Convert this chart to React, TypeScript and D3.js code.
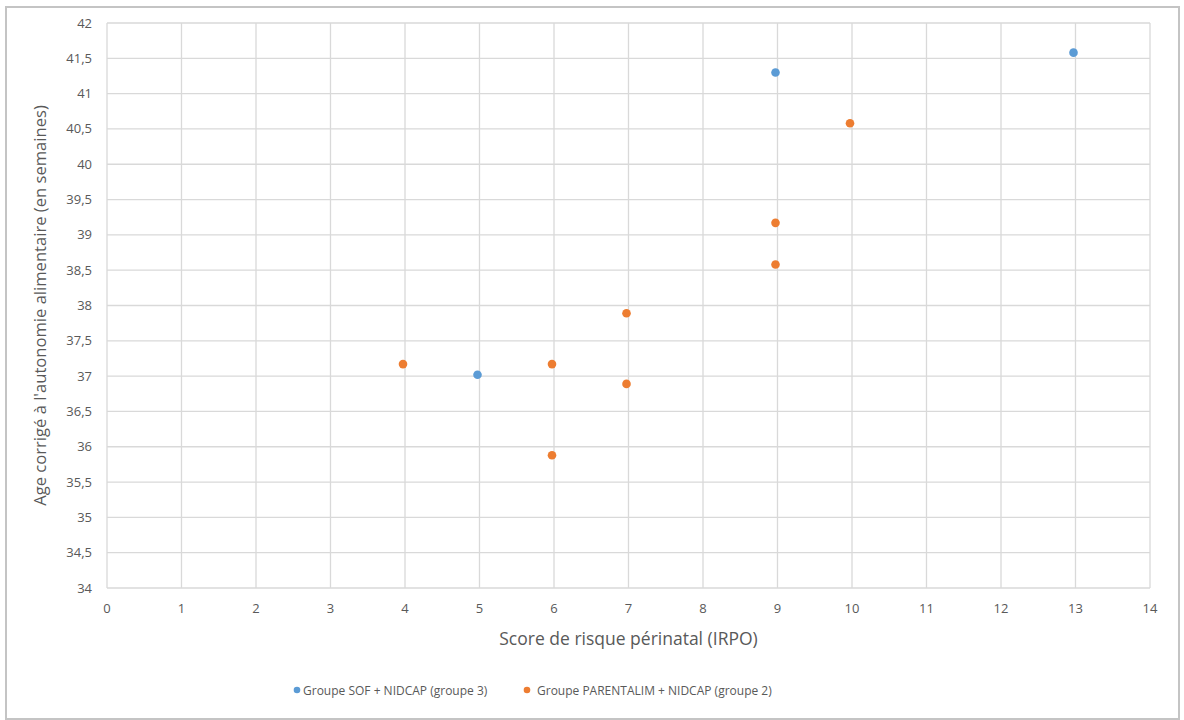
import React from "react";
import * as d3 from "d3";

const sofX = [5, 9, 13];
const sofY = [37.02, 41.3, 41.58];
const parX = [4, 6, 6, 7, 7, 9, 9, 10];
const parY = [37.17, 37.17, 35.88, 37.89, 36.89, 39.17, 38.58, 40.58];
const xTicks = d3.range(0, 15, 1);
const yTicks = d3.range(34, 42.01, 0.5);
const seriesNames = ["Groupe SOF + NIDCAP (groupe 3)", "Groupe PARENTALIM + NIDCAP (groupe 2)"];
const colors = ["#5B9BD5", "#ED7D31"];

export default function App() {
  const W = 1184, H = 720;
  const x = d3.scaleLinear().domain([0, 14]).range([107, 1150]);
  const y = d3.scaleLinear().domain([34, 42]).range([588, 23]);
  const fmt = (v: number) => String(v).replace(".", ",");
  const font = "'Open Sans', 'Segoe UI', sans-serif";
  const sof = sofX.map((v, i) => ({ x: v, y: sofY[i] }));
  const par = parX.map((v, i) => ({ x: v, y: parY[i] }));
  return (
    <svg width={W} height={H} style={{ position: "absolute", left: 0, top: 0, fontFamily: font }}>
      <rect x={0} y={0} width={W} height={H} fill="#fff" />
      <rect x={6} y={7} width={1173} height={712} fill="#fff" stroke="#c4c4c4" strokeWidth={2} />
      {xTicks.map((t) => (
        <line key={"gx" + t} x1={x(t)} x2={x(t)} y1={y(34)} y2={y(42)} stroke="#d9d9d9" strokeWidth={1.3} />
      ))}
      {yTicks.map((t) => (
        <line key={"gy" + t} x1={x(0)} x2={x(14)} y1={y(t)} y2={y(t)} stroke="#d9d9d9" strokeWidth={1.3} />
      ))}
      {xTicks.map((t) => (
        <text key={"tx" + t} x={x(t)} y={613} textAnchor="middle" fontSize={13} fill="#595959">{t}</text>
      ))}
      {yTicks.map((t) => (
        <text key={"ty" + t} x={92} y={y(t) + 4.5} textAnchor="end" fontSize={13} fill="#595959">{fmt(t)}</text>
      ))}
      <text x={(x(0) + x(14)) / 2} y={645} textAnchor="middle" fontSize={17.5} fill="#595959">Score de risque périnatal (IRPO)</text>
      <text transform={`translate(46,${(y(34) + y(42)) / 2}) rotate(-90)`} textAnchor="middle" fontSize={16.6} fill="#595959">
        Age corrigé à l'autonomie alimentaire (en semaines)
      </text>
      {par.map((d, i) => (
        <circle key={"p" + i} cx={x(d.x) - 2} cy={y(d.y)} r={4.3} fill={colors[1]} />
      ))}
      {sof.map((d, i) => (
        <circle key={"s" + i} cx={x(d.x) - 2} cy={y(d.y)} r={4.3} fill={colors[0]} />
      ))}
      <circle cx={297} cy={690} r={3.3} fill={colors[0]} />
      <text x={303} y={694.5} fontSize={12} fill="#595959">{seriesNames[0]}</text>
      <circle cx={527} cy={690} r={3.3} fill={colors[1]} />
      <text x={537} y={694.5} fontSize={12} fill="#595959">{seriesNames[1]}</text>
    </svg>
  );
}
